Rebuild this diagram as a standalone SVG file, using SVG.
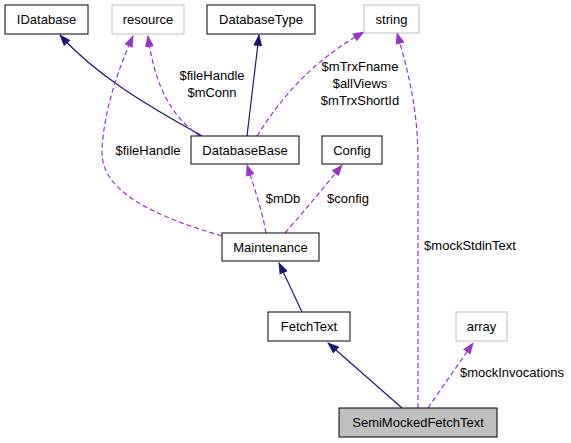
<svg xmlns="http://www.w3.org/2000/svg" width="571" height="443" viewBox="0 0 571 443">
<style>
text{font-family:"Liberation Sans",Arial,sans-serif;font-size:13px;fill:#000;text-anchor:middle}
.box{fill:#fff;stroke:#000;stroke-width:1}
.ext{fill:#fff;stroke:#bfbfbf;stroke-width:1}
.cur{fill:#bfbfbf;stroke:#000;stroke-width:1}
.inh{fill:none;stroke:#191970;stroke-width:1.2}
.use{fill:none;stroke:#9a32cd;stroke-width:1.2;stroke-dasharray:5,3}
</style>
<defs>
<marker id="an" viewBox="0 0 12 9" refX="11" refY="4.5" markerWidth="12" markerHeight="9" markerUnits="userSpaceOnUse" orient="auto"><path d="M0,0 L12,4.5 L0,9 z" fill="#191970"/></marker>
<marker id="ap" viewBox="0 0 12 9" refX="11" refY="4.5" markerWidth="12" markerHeight="9" markerUnits="userSpaceOnUse" orient="auto"><path d="M0,0 L12,4.5 L0,9 z" fill="#9a32cd"/></marker>
</defs>
<g id="edges">
<path class="inh" marker-end="url(#an)" d="M202,136 C160,112 100,80 60,35"/>
<path class="use" marker-end="url(#ap)" d="M200,136 C175,120 155,90 148,36"/>
<path class="use" marker-end="url(#ap)" d="M222,236 C150,215 100,190 102,150 C104,110 118,70 133,36"/>
<path class="inh" marker-end="url(#an)" d="M247,136 L259,35"/>
<path class="use" marker-end="url(#ap)" d="M257,136 C280,100 310,62 364,32"/>
<path class="use" marker-end="url(#ap)" d="M418,408 L418,160 C418,110 408,70 397,33"/>
<path class="use" marker-end="url(#ap)" d="M266,233 C262,210 255,190 247,165"/>
<path class="use" marker-end="url(#ap)" d="M285,233 C305,210 322,190 342,165"/>
<path class="inh" marker-end="url(#an)" d="M302,312 L279,263"/>
<path class="inh" marker-end="url(#an)" d="M402,408 L328,343"/>
<path class="use" marker-end="url(#ap)" d="M428,408 L473,343"/>
<text x="148" y="155">$fileHandle</text>
<text x="212" y="80">$fileHandle</text>
<text x="212" y="97">$mConn</text>
<text x="360" y="71">$mTrxFname</text>
<text x="360" y="88">$allViews</text>
<text x="360" y="105">$mTrxShortId</text>
<text x="283" y="203">$mDb</text>
<text x="348" y="203">$config</text>
<text x="470" y="250">$mockStdinText</text>
<text x="512" y="377">$mockInvocations</text>
</g>
<g id="IDatabase"><rect class="box" x="5" y="5" width="83" height="29"/><text x="46.5" y="24">IDatabase</text></g>
<g id="resource"><rect class="ext" x="112" y="5" width="72" height="29"/><text x="148" y="24">resource</text></g>
<g id="DatabaseType"><rect class="box" x="207" y="5" width="108" height="29"/><text x="261" y="24">DatabaseType</text></g>
<g id="string"><rect class="ext" x="364" y="5" width="55" height="28"/><text x="391.5" y="24">string</text></g>
<g id="DatabaseBase"><rect class="box" x="191" y="136" width="108" height="28"/><text x="245" y="155">DatabaseBase</text></g>
<g id="Config"><rect class="box" x="322" y="136" width="60" height="28"/><text x="352" y="155">Config</text></g>
<g id="Maintenance"><rect class="box" x="222" y="233" width="97" height="28"/><text x="270.5" y="252">Maintenance</text></g>
<g id="FetchText"><rect class="box" x="268" y="312" width="82" height="29"/><text x="309" y="331">FetchText</text></g>
<g id="array"><rect class="ext" x="456" y="312" width="51" height="29"/><text x="481.5" y="331">array</text></g>
<g id="SemiMockedFetchText"><rect class="cur" x="339" y="408" width="158" height="29"/><text x="418" y="427">SemiMockedFetchText</text></g>
</svg>
